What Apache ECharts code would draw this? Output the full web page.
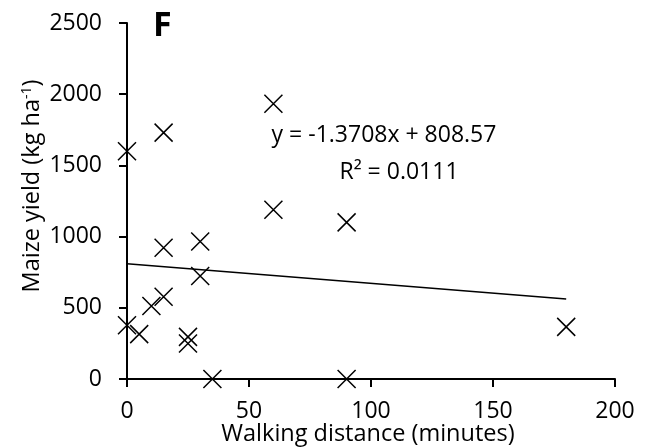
<!DOCTYPE html>
<html>
<head>
<meta charset="utf-8">
<script src="https://cdn.jsdelivr.net/npm/echarts@6/dist/echarts.min.js"></script>
<style>html,body{margin:0;padding:0;background:#fff}#c{width:648px;height:447px}</style>
</head>
<body>
<div id="c"></div>
<script>
// Walking distance (minutes)
const walkMinutes = [0, 0, 5, 10, 15, 15, 15, 25, 25, 30, 30, 35, 60, 60, 90, 90, 180];
// Maize yield (kg ha-1)
const maizeYield = [1600, 378, 315, 512, 578, 922, 1730, 296, 249, 965, 723, 0, 1933, 1188, 1100, 0, 366];
const xTicks = [0, 50, 100, 150, 200];
const yTicks = [0, 500, 1000, 1500, 2000, 2500];
const trendSlope = -1.3708;
const trendIntercept = 808.57;
const trendRange = [0, 180];
const rSquared = '0.0111';

const font = 'Open Sans';
const points = walkMinutes.map((x, i) => [x, maizeYield[i]]);
const trend = trendRange.map(x => [x, trendSlope * x + trendIntercept]);

const chart = echarts.init(document.getElementById('c'));
chart.setOption({
  animation: false,
  backgroundColor: '#fff',
  grid: { left: 127, right: 33, top: 23, bottom: 68, containLabel: false },
  xAxis: {
    type: 'value', min: xTicks[0], max: xTicks[xTicks.length - 1], interval: 50,
    axisLine: { show: true, onZero: false, lineStyle: { color: '#000', width: 2 } },
    axisTick: { show: true, inside: false, length: 8, lineStyle: { color: '#000', width: 2 } },
    axisLabel: { color: '#000', fontFamily: font, fontSize: 23, margin: 21, formatter: v => String(v) },
    splitLine: { show: false }
  },
  yAxis: {
    type: 'value', min: yTicks[0], max: yTicks[yTicks.length - 1], interval: 500,
    axisLine: { show: true, lineStyle: { color: '#000', width: 2 } },
    axisTick: { show: true, inside: false, length: 8, lineStyle: { color: '#000', width: 2 } },
    axisLabel: { color: '#000', fontFamily: font, fontSize: 23, margin: 25, formatter: v => String(v) },
    splitLine: { show: false }
  },
  series: [
    {
      type: 'line', data: trend, symbol: 'none', silent: true,
      lineStyle: { color: '#000', width: 1.5 }
    },
    {
      type: 'scatter', data: points,
      symbol: 'path://M0 0L10 10M10 0L0 10', symbolSize: 18,
      itemStyle: { color: 'transparent', borderColor: '#000', borderWidth: 1.5, opacity: 1 }
    }
  ],
  graphic: [
    { type: 'text', left: 153, top: 9, style: { text: 'F', font: 'bold 34px "Open Sans"', fill: '#000' } },
    { type: 'text', x: 384, y: 135, style: { text: 'y = ' + trendSlope + 'x + ' + trendIntercept, font: '23px "Open Sans"', fill: '#000', align: 'center', verticalAlign: 'middle' } },
    { type: 'text', x: 399, y: 172, style: { text: 'R² = ' + rSquared, font: '23px "Open Sans"', fill: '#000', align: 'center', verticalAlign: 'middle' } },
    { type: 'text', x: 368, y: 434, style: { text: 'Walking distance (minutes)', font: '23.5px "Open Sans"', fill: '#000', align: 'center', verticalAlign: 'middle' } },
    { type: 'text', x: 32, y: 186, rotation: Math.PI / 2,
      style: {
        text: '{n|Maize yield (kg ha}{s|-1}{n|)}', align: 'center', verticalAlign: 'middle',
        rich: {
          n: { font: '23.5px "Open Sans"', fill: '#000', verticalAlign: 'bottom' },
          s: { font: '14px "Open Sans"', fill: '#000', verticalAlign: 'top', padding: [0, 0, 9, 0] }
        }
      }
    }
  ]
});
</script>
</body>
</html>
